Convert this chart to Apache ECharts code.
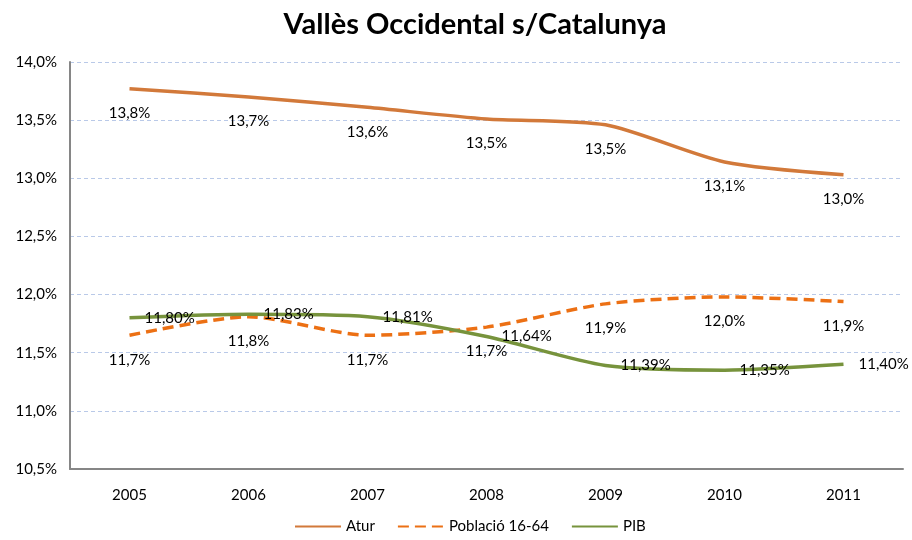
<!DOCTYPE html>
<html>
<head>
<meta charset="utf-8">
<script src="https://cdn.jsdelivr.net/npm/echarts@6/dist/echarts.min.js"></script>
<style>
  html, body { margin: 0; padding: 0; background: #fff; }
  #chart { width: 912px; height: 540px; }
</style>
</head>
<body>
<div id="chart"></div>
<script>
  // dades
  const years = ['2005', '2006', '2007', '2008', '2009', '2010', '2011']
  const atur = [13.77, 13.70, 13.61, 13.51, 13.46, 13.14, 13.03]
  const poblacio = [11.65, 11.81, 11.65, 11.72, 11.92, 11.98, 11.94]
  const pib = [11.80, 11.83, 11.81, 11.64, 11.39, 11.35, 11.40]

  const font = 'Lato'
  const pct = (v, d) => v.toFixed(d).replace('.', ',') + '%'

  const chart = echarts.init(document.getElementById('chart'))
  chart.setOption({
    animation: false,
    textStyle: { fontFamily: font },
    title: {
      text: 'Vallès Occidental s/Catalunya',
      left: 470,
      textAlign: 'center',
      top: 5,
      textStyle: { fontFamily: font, fontSize: 29, fontWeight: 'bold', color: '#000' }
    },
    grid: { left: 70, right: 9, top: 62, bottom: 71 },
    legend: {
      bottom: 1,
      left: 289,
      itemWidth: 46,
      itemHeight: 10,
      itemGap: 22,
      itemStyle: { opacity: 0 },
      textStyle: { fontFamily: font, fontSize: 15, color: '#000' },
      data: ['Atur', 'Població 16-64', 'PIB']
    },
    xAxis: {
      type: 'category',
      data: years,
      boundaryGap: true,
      axisTick: { show: false },
      axisLine: { lineStyle: { color: '#868686', width: 2 } },
      axisLabel: { color: '#000', fontSize: 15, margin: 19, fontFamily: font }
    },
    yAxis: {
      type: 'value',
      min: 10.5,
      max: 14,
      interval: 0.5,
      axisLine: { show: true, lineStyle: { color: '#868686', width: 2 } },
      axisTick: { show: false },
      axisLabel: { color: '#000', fontSize: 15, margin: 13, fontFamily: font, formatter: v => pct(v, 1) },
      splitLine: { lineStyle: { color: '#B9C9E8', type: [4, 3], width: 1 } }
    },
    series: [
      {
        name: 'Atur',
        type: 'line',
        data: atur,
        smooth: 0.25,
        symbol: 'circle',
        symbolSize: 0,
        lineStyle: { color: '#D2793A', width: 3.5 },
        itemStyle: { color: '#D2793A' },
        label: { show: true, position: 'bottom', distance: 17, color: '#000', fontSize: 15, formatter: p => pct(p.value, 1) }
      },
      {
        name: 'Població 16-64',
        type: 'line',
        data: poblacio,
        smooth: 0.25,
        symbol: 'circle',
        symbolSize: 0,
        lineStyle: { color: '#EC7014', width: 3.5, type: [11, 6] },
        itemStyle: { color: '#EC7014' },
        label: { show: true, position: 'bottom', distance: 17, color: '#000', fontSize: 15, formatter: p => pct(p.value, 1) }
      },
      {
        name: 'PIB',
        type: 'line',
        data: pib,
        smooth: 0.25,
        symbol: 'circle',
        symbolSize: 0,
        lineStyle: { color: '#77933C', width: 3.5 },
        itemStyle: { color: '#77933C' },
        label: { show: true, position: 'right', distance: 15, color: '#000', fontSize: 15, formatter: p => pct(p.value, 2) }
      }
    ]
  })
</script>
</body>
</html>
